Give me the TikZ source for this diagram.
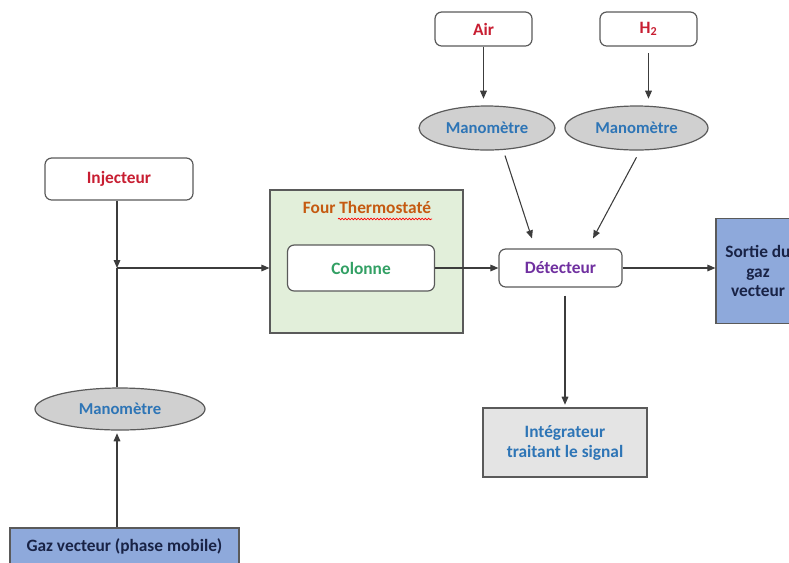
\documentclass[tikz,border=0pt]{standalone}
\usepackage{fontspec}
\setmainfont{Carlito}
\usepackage{tikz}
\usetikzlibrary{arrows.meta, shapes.geometric, decorations.pathmorphing}
\definecolor{boxgray}{RGB}{90,90,90}
\definecolor{linegray}{RGB}{60,60,60}
\definecolor{manogray}{RGB}{208,208,208}
\definecolor{integgray}{RGB}{228,228,228}
\definecolor{gazblue}{RGB}{142,169,219}
\definecolor{fourgreen}{RGB}{226,239,218}
\definecolor{txtred}{RGB}{200,30,50}
\definecolor{txtblue}{RGB}{46,117,182}
\definecolor{txtnavy}{RGB}{25,35,70}
\definecolor{txtorange}{RGB}{197,90,17}
\definecolor{txtgreen}{RGB}{50,160,100}
\definecolor{txtpurple}{RGB}{112,48,160}
\tikzset{
  box/.style={rectangle, draw=boxgray, rounded corners=5pt, fill=white, line width=0.9pt, align=center, inner sep=0pt,
    font=\bfseries\fontsize{13}{15.5}\selectfont},
  plain/.style={rectangle, draw=boxgray, fill=#1, line width=0.9pt, align=center, inner sep=0pt,
    font=\bfseries\fontsize{13}{15}\selectfont},
  mano/.style={ellipse, draw=boxgray, fill=manogray, line width=0.9pt, inner sep=0pt, text=txtblue,
    font=\bfseries\fontsize{12.5}{15}\selectfont},
  line/.style={-{Triangle[length=6pt,width=5pt]}, draw=linegray, line width=0.8pt}
}

\begin{document}
\begin{tikzpicture}[x=0.75pt, y=-0.75pt]
    \useasboundingbox (0,0) rectangle (789,562);

    \node[box, text=txtred, minimum width=111pt, minimum height=31.5pt] (inj) at (119,179) {Injecteur};
    \node[plain=fourgreen, minimum width=144.75pt, minimum height=107.25pt] (four) at (366.5,261.5) {};
    \node[text=txtorange, font=\bfseries\fontsize{13}{15}\selectfont] (title) at (367,207) {Four Thermostaté};
    \node[box, text=txtgreen, minimum width=110.25pt, minimum height=34.5pt] (col) at (361,268) {Colonne};
    \node[box, text=txtpurple, minimum width=92.25pt, minimum height=28.5pt] (det) at (560.5,268) {Détecteur};
    \node[plain=gazblue, text=txtnavy, minimum width=63pt, minimum height=78.75pt, font=\bfseries\fontsize{13}{14.5}\selectfont] (sortie) at (758,271) {Sortie du\\gaz\\vecteur};
    \node[box, text=txtred, minimum width=72.75pt, minimum height=25.5pt] (air) at (483.5,29) {Air};
    \node[box, text=txtred, minimum width=72.75pt, minimum height=25.5pt] (h2) at (648.5,29) {H\textsubscript{2}};
    \node[mano, minimum width=102pt, minimum height=33pt] (manoair) at (487,128) {Manomètre};
    \node[mano, minimum width=107.25pt, minimum height=33pt] (manoh2) at (636.5,128) {Manomètre};
    \node[mano, minimum width=127.5pt, minimum height=31.5pt] (manogaz) at (120,409) {Manomètre};
    \node[plain=integgray, text=txtblue, minimum width=123pt, minimum height=51.75pt] (integ) at (565,442.5) {Intégrateur\\traitant le signal};
    \node[plain=gazblue, text=txtnavy, minimum width=171.75pt, minimum height=27pt] (gaz) at (124.5,546) {Gaz vecteur (phase mobile)};
    \coordinate (junc) at (117,268);

    % spell-check squiggle under Thermostaté
    \draw[red, line width=0.5pt, decorate, decoration={snake, amplitude=0.6pt, segment length=2.4pt}] (338,219) -- (432,219);

    \draw[line] (inj.south -| junc) -- (junc);
    \draw[line] (junc) -- (junc -| four.west);
    \draw[draw=linegray, line width=0.8pt] (manogaz.north -| junc) -- (junc);
    \draw[line, shorten >=2pt] (gaz.north -| junc) -- (manogaz.south -| junc);
    \draw[line] (col.east) -- (det.west);
    \draw[line] (det.east) -- (det.east -| sortie.west);
    \draw[line, shorten >=5pt] (air.south) -- (air.south |- manoair.north);
    \draw[line, shorten <=5pt, shorten >=5pt] (h2.south) -- (h2.south |- manoh2.north);
    \draw[line] ([xshift=13.5pt,yshift=-3.75pt]manoair.south) -- ([xshift=-21.4pt,yshift=7.5pt]det.north);
    \draw[line] ([yshift=-5pt]manoh2.south) -- ([xshift=24.4pt,yshift=7.5pt]det.north);
    \draw[line, shorten <=6pt, shorten >=2pt] (det.south -| integ) -- (integ.north);
  \end{tikzpicture}
\end{document}
